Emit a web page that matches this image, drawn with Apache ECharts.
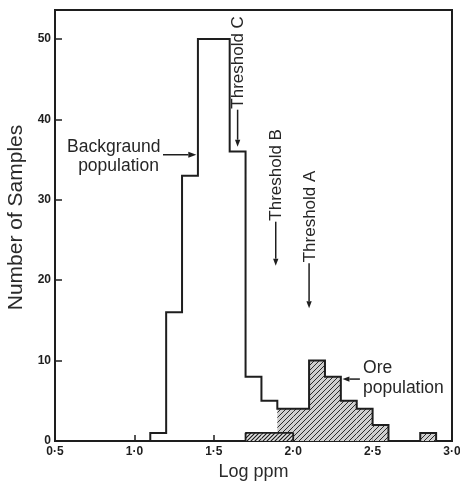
<!DOCTYPE html>
<html>
<head>
<meta charset="utf-8">
<script src="https://cdn.jsdelivr.net/npm/echarts@6/dist/echarts.min.js"></script>
<style>
html, body { margin: 0; padding: 0; background: #fff; }
#chart { width: 460px; height: 483px; }
</style>
</head>
<body>
<div id="chart"></div>
<script>
// Histogram of log-ppm values, bins 0.1 log units wide
const binWidth = 0.1;

// Whole sample set (outline)
const allBinStarts = [1.1, 1.2, 1.3, 1.4, 1.5, 1.6, 1.7, 1.8, 1.9, 2.0, 2.1, 2.2, 2.3, 2.4, 2.5, 2.6, 2.7, 2.8];
const allCounts    = [1, 16, 33, 50, 50, 36, 8, 5, 4, 4, 10, 8, 5, 4, 2, 0, 0, 1];

// Ore population (hatched)
const oreBinStarts = [1.9, 2.0, 2.1, 2.2, 2.3, 2.4, 2.5, 2.8];
const oreCounts    = [4, 4, 10, 8, 5, 4, 2, 1];

// Low-lying ore samples (densely hatched strip)
const stripBinStarts = [1.7, 1.8, 1.9];
const stripCounts    = [1, 1, 1];

// Axis ticks
const xTickValues = [0.5, 1.0, 1.5, 2.0, 2.5, 3.0];
const xTickLabels = ['0·5', '1·0', '1·5', '2·0', '2·5', '3·0'];
const yTickValues = [0, 10, 20, 30, 40, 50];

// Thresholds (log ppm)
const thresholdNames  = ['Threshold C', 'Threshold B', 'Threshold A'];
const thresholdLogPpm = [1.65, 1.89, 2.1];

const INK = '#1e1e1e';
const FONT = '"Liberation Sans", Arial, sans-serif';

function binEnd(s) { return +(s + binWidth).toFixed(2); }

function stepOutline(starts, counts) {
  const pts = [[starts[0], 0]];
  starts.forEach((s, i) => {
    pts.push([s, counts[i]], [binEnd(s), counts[i]]);
  });
  pts.push([binEnd(starts[starts.length - 1]), 0]);
  return pts;
}

function hatchCanvas(size, bg, fg, lw) {
  const c = document.createElement('canvas');
  c.width = c.height = size;
  const g = c.getContext('2d');
  g.fillStyle = bg;
  g.fillRect(0, 0, size, size);
  g.strokeStyle = fg;
  g.lineWidth = lw;
  g.beginPath();
  g.moveTo(-1, size + 1); g.lineTo(size + 1, -1);
  g.moveTo(-size / 2 - 1, size / 2 + 1); g.lineTo(size / 2 + 1, -size / 2 - 1);
  g.moveTo(size / 2 - 1, size * 1.5 + 1); g.lineTo(size * 1.5 + 1, size / 2 - 1);
  g.stroke();
  return c;
}

const oreHatch = hatchCanvas(5, '#cfcfcf', '#2a2a2a', 1);
const stripHatch = hatchCanvas(4, '#e4e4e4', '#1a1a1a', 1.2);

function hatchedBars(name, starts, counts, pattern, z) {
  return {
    name: name,
    type: 'custom',
    z: z,
    data: starts.map((s, i) => [s, binEnd(s), counts[i]]),
    encode: { x: [0, 1], y: 2 },
    renderItem: function (params, api) {
      const p0 = api.coord([api.value(0), 0]);
      const p1 = api.coord([api.value(1), api.value(2)]);
      return {
        type: 'rect',
        shape: { x: p0[0], y: p1[1], width: p1[0] - p0[0], height: p0[1] - p1[1] },
        style: { fill: { image: pattern, repeat: 'repeat' }, stroke: null }
      };
    }
  };
}

function arrow(from, to, head) {
  const dx = to[0] - from[0], dy = to[1] - from[1];
  const len = Math.sqrt(dx * dx + dy * dy);
  const ux = dx / len, uy = dy / len;
  const bx = to[0] - ux * head, by = to[1] - uy * head;
  const w = head * 0.38;
  return [
    { type: 'line', shape: { x1: from[0], y1: from[1], x2: bx, y2: by }, style: { stroke: INK, lineWidth: 1.5 } },
    { type: 'polygon', shape: { points: [[to[0], to[1]], [bx - uy * w, by + ux * w], [bx + uy * w, by - ux * w]] }, style: { fill: INK } }
  ];
}

// Arrow tip heights (counts) and stem lengths (px) for the threshold markers
const thresholdTip = [36.6, 21.8, 16.5];
const thresholdStem = [37, 44, 45];

const chart = echarts.init(document.getElementById('chart'), null, { renderer: 'canvas' });

chart.setOption({
  animation: false,
  backgroundColor: '#fff',
  grid: {
    left: 55, right: 8, top: 10, bottom: 42,
    outerBoundsMode: 'none',
    containLabel: false,
    show: true, borderColor: INK, borderWidth: 2, backgroundColor: 'transparent'
  },
  xAxis: {
    type: 'value',
    min: 0.5, max: 3.0, interval: 0.5,
    name: 'Log ppm',
    nameLocation: 'middle',
    nameGap: 22,
    nameTextStyle: { color: '#2a2a2a', fontSize: 18, fontFamily: FONT },
    axisLine: { show: true, lineStyle: { color: INK, width: 2 } },
    axisTick: { show: true, inside: true, length: 6, lineStyle: { color: INK, width: 1.5 } },
    axisLabel: {
      color: INK, fontSize: 12, fontWeight: 'bold', fontFamily: FONT, margin: 5,
      formatter: function (v) {
        const i = xTickValues.findIndex(t => Math.abs(t - v) < 1e-6);
        return i >= 0 ? xTickLabels[i] : '';
      }
    },
    splitLine: { show: false }
  },
  yAxis: {
    type: 'value',
    min: 0, max: 53.6,
    name: 'Number of Samples',
    nameLocation: 'middle',
    nameGap: 26,
    nameRotate: 90,
    nameTextStyle: { color: '#2a2a2a', fontSize: 21, fontFamily: FONT, padding: [0, 0, 0, 16] },
    axisLine: { show: true, lineStyle: { color: INK, width: 2 } },
    axisTick: { show: true, inside: true, length: 7, customValues: yTickValues, lineStyle: { color: INK, width: 1.5 } },
    axisLabel: { color: INK, fontSize: 12, fontWeight: 'bold', fontFamily: FONT, margin: 4, customValues: yTickValues },
    splitLine: { show: false }
  },
  series: [
    hatchedBars('Ore population', oreBinStarts, oreCounts, oreHatch, 2),
    hatchedBars('Ore strip', stripBinStarts, stripCounts, stripHatch, 3),
    {
      name: 'Ore strip outline',
      type: 'line',
      z: 4,
      data: stepOutline(stripBinStarts, stripCounts),
      symbol: 'none',
      lineStyle: { color: INK, width: 1.8 }
    },
    {
      name: 'All samples',
      type: 'line',
      z: 5,
      data: stepOutline(allBinStarts, allCounts),
      symbol: 'none',
      lineStyle: { color: INK, width: 2, join: 'miter' }
    },
    {
      name: 'Annotations',
      type: 'custom',
      z: 6,
      clip: false,
      data: [0],
      renderItem: function (params, api) {
        const children = [];
        const textStyle = (text, align, size) => ({ text: text, fill: '#262626', font: size + 'px ' + FONT, align: align, verticalAlign: 'middle' });

        // Threshold markers: vertical text with a downward arrow beneath
        thresholdNames.forEach((name, i) => {
          const tip = api.coord([thresholdLogPpm[i], thresholdTip[i]]);
          const top = [tip[0], tip[1] - thresholdStem[i]];
          children.push(...arrow(top, tip, 7));
          children.push({
            type: 'text', x: tip[0] + 1, y: top[1] - 1, rotation: Math.PI / 2,
            style: textStyle(name, 'left', 17)
          });
        });

        // Background population label
        const bgArrowTo = api.coord([1.39, 35.6]);
        const bgArrowFrom = api.coord([1.18, 35.6]);
        children.push(...arrow(bgArrowFrom, bgArrowTo, 8));
        const bgText = api.coord([0.87, 36.6]);
        children.push({ type: 'text', x: bgText[0], y: bgText[1], style: textStyle('Backgraund', 'center', 17.5) });
        const bgText2 = api.coord([0.9, 34.2]);
        children.push({ type: 'text', x: bgText2[0], y: bgText2[1], style: textStyle('population', 'center', 17.5) });

        // Ore population label
        const oreArrowFrom = api.coord([2.42, 7.7]);
        const oreArrowTo = api.coord([2.31, 7.7]);
        children.push(...arrow(oreArrowFrom, oreArrowTo, 7));
        const oreText = api.coord([2.44, 9.0]);
        children.push({ type: 'text', x: oreText[0], y: oreText[1], style: textStyle('Ore', 'left', 17.5) });
        const oreText2 = api.coord([2.44, 6.6]);
        children.push({ type: 'text', x: oreText2[0], y: oreText2[1], style: textStyle('population', 'left', 17.5) });

        return { type: 'group', children: children };
      }
    }
  ]
});
</script>
</body>
</html>
